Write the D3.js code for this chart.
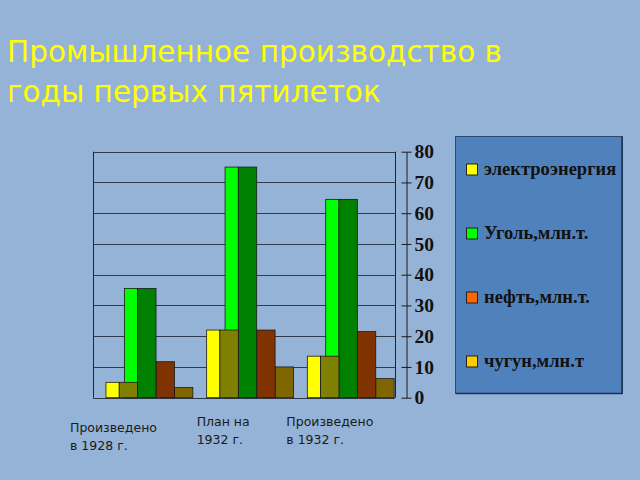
<!DOCTYPE html>
<html><head><meta charset="utf-8">
<script src="https://cdn.jsdelivr.net/npm/d3@7"></script>
<style>html,body{margin:0;padding:0;background:#95b3d7;}svg{display:block;}</style>
</head><body>
<svg id="c" width="640" height="480"></svg>
<script>
const groups = ["Произведено в 1928 г.", "План на 1932 г.", "Произведено в 1932 г."];
const groupLines = [["Произведено", "в 1928 г."], ["План на", "1932 г."], ["Произведено", "в 1932 г."]];
const series = ["электроэнергия", "Уголь,млн.т.", "нефть,млн.т.", "чугун,млн.т"];
const electricity = [5.0, 22, 13.5];
const coal = [35.5, 75, 64.5];
const oil = [11.7, 22, 21.5];
const pigIron = [3.3, 10, 6.2];
const yTicks = [0, 10, 20, 30, 40, 50, 60, 70, 80];
const values = [electricity, coal, oil, pigIron];
const frontColors = ["#ffff00", "#00ff00", "#ff6600", "#ffcc00"];
const sideColors = ["#808000", "#008000", "#803300", "#806600"];

const svg = d3.select("#c");
svg.append("rect").attr("width", 640).attr("height", 480).attr("fill", "#95b3d7");

// title
const title = svg.append("text")
  .attr("font-family", "DejaVu Sans").attr("font-size", 29.5).attr("fill", "#ffff00");
title.append("tspan").attr("x", 7).attr("y", 62).text("Промышленное производство в");
title.append("tspan").attr("x", 7).attr("y", 102).text("годы первых пятилеток");

const L = 93, R = 395, T = 151.7, B = 397.7;
const y = d3.scaleLinear().domain([0, 80]).range([B, T]);
const x0 = d3.scaleBand().domain(groups).range([L, R]).padding(0);
const bw = x0.bandwidth();
const x1 = d3.scaleBand().domain(series).range([bw * 0.129, bw * 0.86]).padding(0);
const frontW = x1.bandwidth() * 0.72;

// gridlines
svg.append("g").selectAll("line").data(yTicks).join("line")
  .attr("x1", L).attr("x2", R)
  .attr("y1", d => Math.round(y(d)) + 0.5).attr("y2", d => Math.round(y(d)) + 0.5)
  .attr("stroke", "#1c2633").attr("stroke-width", 1).attr("stroke-opacity", 0.85);
svg.append("line").attr("x1", L + 0.5).attr("x2", L + 0.5).attr("y1", y(80)).attr("y2", y(0))
  .attr("stroke", "#1c2633").attr("stroke-width", 1);
svg.append("line").attr("x1", R + 0.5).attr("x2", R + 0.5).attr("y1", y(80)).attr("y2", y(0))
  .attr("stroke", "#1c2633").attr("stroke-width", 1);

// bars
const gBars = svg.append("g");
groups.forEach((g, gi) => {
  for (let si = series.length - 1; si >= 0; si--) {
    const s = series[si];
    const v = values[si][gi];
    const bx = x0(g) + x1(s);
    gBars.append("rect").attr("x", bx).attr("y", y(v)).attr("width", frontW).attr("height", y(0) - y(v))
      .attr("fill", frontColors[si]).attr("stroke", "#1a1a1a").attr("stroke-width", 0.8);
    gBars.append("rect").attr("x", bx + frontW).attr("y", y(v)).attr("width", x1.bandwidth()).attr("height", y(0) - y(v))
      .attr("fill", sideColors[si]).attr("stroke", "#1a1a1a").attr("stroke-width", 0.8);
  }
});

// right axis
const axis = d3.axisRight(y).tickValues(yTicks).tickSizeInner(5).tickSizeOuter(0).tickPadding(5);
const ax = svg.append("g").attr("transform", "translate(406.5,0)").call(axis);
ax.select(".domain").attr("stroke", "#1a1a1a");
ax.selectAll(".tick line").attr("x1", -5).attr("x2", 5).attr("stroke", "#1a1a1a");
ax.selectAll(".tick text").attr("x", 8).attr("font-family", "Liberation Serif").attr("font-weight", "bold")
  .attr("font-size", 19.5).attr("fill", "#111");

// legend
const lg = svg.append("g");
lg.append("rect").attr("x", 455.5).attr("y", 136.5).attr("width", 167).attr("height", 257)
  .attr("fill", "#4f81bd").attr("stroke", "#2b4a70").attr("stroke-width", 1);
lg.append("line").attr("x1", 622).attr("x2", 622).attr("y1", 137).attr("y2", 394).attr("stroke", "#1e3350").attr("stroke-width", 1.5);
lg.append("line").attr("x1", 456).attr("x2", 623).attr("y1", 393.5).attr("y2", 393.5).attr("stroke", "#1e3350").attr("stroke-width", 1.5);
const legY = d3.scalePoint().domain(series).range([170, 362]);
const items = lg.selectAll("g.item").data(series).join("g").attr("class", "item")
  .attr("transform", d => `translate(0,${legY(d)})`);
items.append("rect").attr("x", 466.5).attr("y", -6).attr("width", 11).attr("height", 11)
  .attr("fill", (d, i) => frontColors[i]).attr("stroke", "#222").attr("stroke-width", 1);
items.append("text").attr("x", 484).attr("y", 5).attr("font-family", "Liberation Serif").attr("font-weight", "bold")
  .attr("font-size", 18.5).attr("fill", "#111").text(d => d);

// group labels
const labelDx = [-23, 3, -8];
const labelTop = [432, 426, 426];
groups.forEach((g, gi) => {
  const t = svg.append("text").attr("font-family", "DejaVu Sans").attr("font-size", 12.5).attr("fill", "#1a1a1a");
  groupLines[gi].forEach((line, li) => {
    t.append("tspan").attr("x", x0(g) + labelDx[gi]).attr("y", labelTop[gi] + li * 17.5).text(line);
  });
});
</script>
</body></html>
